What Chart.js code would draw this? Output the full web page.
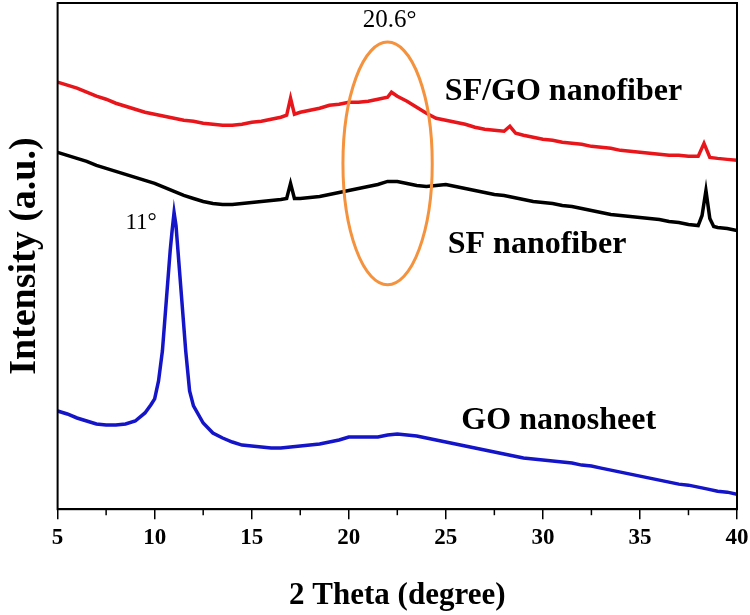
<!DOCTYPE html>
<html>
<head>
<meta charset="utf-8">
<script src="https://cdn.jsdelivr.net/npm/chart.js@4.4.1/dist/chart.umd.min.js"></script>
<style>
  html, body { margin: 0; padding: 0; background: #fff; }
  #wrap { width: 750px; height: 615px; }
</style>
</head>
<body>
<div id="wrap"><canvas id="xrd"></canvas></div>
<script>
// XRD patterns, 2 Theta (degree) vs intensity (a.u.)

const sfgoAngle = [5, 5.5, 6, 6.5, 7, 7.5, 8, 8.5, 9, 9.5,
  10, 10.5, 11, 11.5, 12, 12.5, 13, 13.5, 14, 14.5,
  15, 15.5, 16, 16.5, 16.8, 17, 17.2, 17.5, 18, 18.5,
  19, 19.5, 20, 20.5, 21, 21.5, 22, 22.2, 22.5, 23,
  23.5, 24, 24.5, 25, 25.5, 26, 26.5, 27, 27.5, 28,
  28.3, 28.6, 29, 29.5, 30, 30.5, 31, 31.5, 32, 32.5,
  33, 33.5, 34, 34.5, 35, 35.5, 36, 36.5, 37, 37.5,
  38, 38.3, 38.6, 39, 39.5, 40];
const sfgoIntensity = [426, 423, 420, 416, 412, 409, 405, 402, 399, 396,
  394, 392, 390, 388, 387, 385, 384, 383, 383, 384,
  386, 387, 389, 391, 393, 410, 394, 396, 398, 400,
  403, 404, 406, 406, 407, 409, 411, 416, 412, 407,
  401, 395, 390, 388, 386, 384, 381, 379, 378, 377,
  382, 375, 373, 371, 369, 368, 366, 365, 364, 362,
  361, 360, 358, 357, 356, 355, 354, 353, 353, 352,
  352, 365, 351, 350, 349, 348];

const sfAngle = [5, 5.5, 6, 6.5, 7, 7.5, 8, 8.5, 9, 9.5,
  10, 10.5, 11, 11.5, 12, 12.5, 13, 13.5, 14, 14.5,
  15, 15.5, 16, 16.5, 16.8, 17, 17.2, 17.5, 18, 18.5,
  19, 19.5, 20, 20.5, 21, 21.5, 22, 22.5, 23, 23.5,
  24, 24.5, 25, 25.5, 26, 26.5, 27, 27.5, 28, 28.5,
  29, 29.5, 30, 30.5, 31, 31.5, 32, 32.5, 33, 33.5,
  34, 34.5, 35, 35.5, 36, 36.5, 37, 37.5, 38, 38.2,
  38.4, 38.6, 38.8, 39, 39.5, 40];
const sfIntensity = [356, 353, 350, 347, 343, 340, 337, 334, 331, 328,
  325, 321, 317, 313, 310, 307, 305, 304, 304, 305,
  306, 307, 308, 309, 310, 325, 310, 310, 311, 312,
  314, 316, 318, 320, 322, 324, 327, 327, 325, 323,
  322, 323, 324, 322, 320, 318, 316, 314, 313, 311,
  309, 307, 306, 305, 303, 302, 300, 298, 296, 294,
  293, 292, 291, 290, 289, 287, 286, 284, 283, 293,
  318, 290, 282, 281, 280, 278];

const goAngle = [5, 5.5, 6, 6.5, 7, 7.5, 8, 8.5, 9, 9.5,
  9.8, 10, 10.2, 10.4, 10.6, 10.8, 10.9, 11, 11.1, 11.2,
  11.4, 11.6, 11.8, 12, 12.5, 13, 13.5, 14, 14.5, 15,
  15.5, 16, 16.5, 17, 17.5, 18, 18.5, 19, 19.5, 20,
  20.5, 21, 21.5, 22, 22.5, 23, 23.5, 24, 24.5, 25,
  25.5, 26, 26.5, 27, 27.5, 28, 28.5, 29, 29.5, 30,
  30.5, 31, 31.5, 32, 32.5, 33, 33.5, 34, 34.5, 35,
  35.5, 36, 36.5, 37, 37.5, 38, 38.5, 39, 39.5, 40];
const goIntensity = [98, 95, 91, 88, 85, 84, 84, 85, 88, 96,
  104, 110, 128, 158, 208, 258, 278, 296, 283, 258,
  208, 158, 118, 103, 86, 76, 71, 67, 64, 63,
  62, 61, 61, 62, 63, 64, 65, 67, 69, 72,
  72, 72, 72, 74, 75, 74, 73, 71, 69, 67,
  65, 63, 61, 59, 57, 55, 53, 51, 50, 49,
  48, 47, 46, 44, 43, 41, 39, 37, 35, 33,
  31, 29, 27, 25, 24, 22, 20, 18, 17, 15];

const xTicks = [5, 10, 15, 20, 25, 30, 35, 40];
const xMinorTicks = [7.5, 12.5, 17.5, 22.5, 27.5, 32.5, 37.5];

const serif = "'Liberation Serif', 'Times New Roman', serif";

function toPoints(xs, ys) {
  return xs.map((x, i) => ({ x: x, y: ys[i] }));
}

// frame, minor ticks and the text/ellipse annotations
const xrdDecor = {
  id: 'xrdDecor',
  afterDraw(chart) {
    const { ctx, chartArea: a, scales: { x, y } } = chart;
    ctx.save();
    ctx.strokeStyle = '#000';
    ctx.lineWidth = 2;
    ctx.strokeRect(a.left, a.top, a.right - a.left, a.bottom - a.top);

    ctx.lineWidth = 1.5;
    xMinorTicks.forEach(v => {
      const px = x.getPixelForValue(v);
      ctx.beginPath();
      ctx.moveTo(px, a.bottom);
      ctx.lineTo(px, a.bottom + 6);
      ctx.stroke();
    });

    // ellipse round the broad 20.6 degree hump
    const cx = x.getPixelForValue(22.0);
    const cy = y.getPixelForValue(345);
    const rx = x.getPixelForValue(24.3) - cx;
    const ry = cy - y.getPixelForValue(466);
    ctx.strokeStyle = '#F5923E';
    ctx.lineWidth = 3;
    ctx.beginPath();
    ctx.ellipse(cx, cy, rx, ry, 0, 0, Math.PI * 2);
    ctx.stroke();

    ctx.fillStyle = '#000';
    ctx.textBaseline = 'middle';
    ctx.textAlign = 'center';
    ctx.font = '25px ' + serif;
    ctx.fillText('20.6°', x.getPixelForValue(22.1), y.getPixelForValue(488));
    ctx.font = '23px ' + serif;
    ctx.fillText('11°', x.getPixelForValue(9.3), y.getPixelForValue(286));

    ctx.textAlign = 'left';
    ctx.textBaseline = 'alphabetic';
    ctx.font = 'bold 32px ' + serif;
    ctx.fillText('SF/GO nanofiber', x.getPixelForValue(24.95), y.getPixelForValue(408));
    ctx.fillText('SF nanofiber', x.getPixelForValue(25.1), y.getPixelForValue(256));
    ctx.fillText('GO nanosheet', x.getPixelForValue(25.8), y.getPixelForValue(80));
    ctx.restore();
  }
};

new Chart(document.getElementById('xrd'), {
  type: 'line',
  data: {
    datasets: [
      { label: 'GO nanosheet', data: toPoints(goAngle, goIntensity), borderColor: '#1414C8', borderWidth: 3.5 },
      { label: 'SF nanofiber', data: toPoints(sfAngle, sfIntensity), borderColor: '#000000', borderWidth: 3.5 },
      { label: 'SF/GO nanofiber', data: toPoints(sfgoAngle, sfgoIntensity), borderColor: '#E8161B', borderWidth: 3.5 }
    ]
  },
  options: {
    responsive: true,
    maintainAspectRatio: false,
    animation: false,
    elements: { point: { radius: 0 }, line: { tension: 0 } },
    layout: { padding: { top: 3, right: 13, left: 0, bottom: 0 } },
    plugins: { legend: { display: false }, tooltip: { enabled: false } },
    scales: {
      x: {
        type: 'linear',
        min: 5,
        max: 40,
        afterBuildTicks: scale => { scale.ticks = xTicks.map(v => ({ value: v })); },
        afterFit: scale => { scale.paddingRight = 0; },
        grid: { drawOnChartArea: false, drawTicks: true, tickLength: 10, color: '#000', lineWidth: 1.5 },
        border: { display: true, color: '#000', width: 2 },
        ticks: { color: '#000', padding: 5, maxRotation: 0, font: { family: serif, size: 23, weight: 'bold' } },
        title: {
          display: true,
          text: '2 Theta (degree)',
          color: '#000',
          font: { family: serif, size: 31, weight: 'bold' },
          padding: { top: 21, bottom: 0 }
        }
      },
      y: {
        min: 0,
        max: 505,
        grid: { display: false, drawTicks: false },
        border: { display: false },
        ticks: { display: false },
        title: {
          display: true,
          text: 'Intensity (a.u.)',
          color: '#000',
          font: { family: serif, size: 38, weight: 'bold' },
          padding: { top: 2, bottom: 10 }
        }
      }
    }
  },
  plugins: [xrdDecor]
});
</script>
</body>
</html>
